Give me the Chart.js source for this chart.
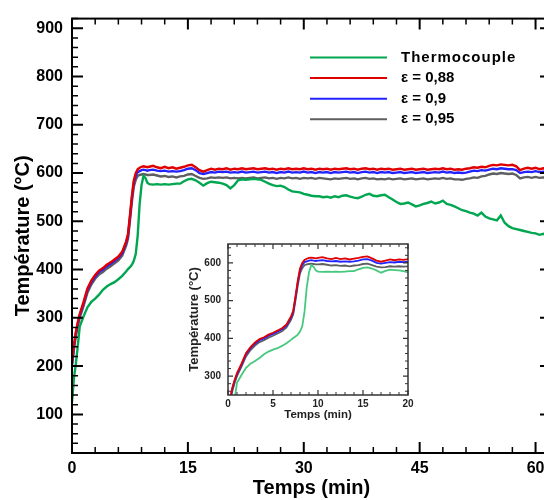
<!DOCTYPE html>
<html><head><meta charset="utf-8">
<script src="https://cdn.jsdelivr.net/npm/chart.js@4/dist/chart.umd.min.js"></script>
<style>
html,body{margin:0;padding:0;background:#fff;overflow:hidden;width:544px;height:500px;position:relative;}
#main{position:absolute;left:0;top:0;}
#inset{position:absolute;left:180px;top:230px;}
</style></head><body>
<canvas id="main" width="560" height="500"></canvas>
<canvas id="inset" width="240" height="192"></canvas>
<script>
// ---- data ----
const times = [0,0.25,0.5,0.75,1,1.5,2,2.5,3,3.5,4,4.5,5,5.5,6,6.5,7,7.25,7.5,7.75,8,8.25,8.5,8.75,9,9.25,9.5,9.75,
10,10.5,11,11.5,12,12.5,13,13.5,14,14.5,15,15.5,16,16.5,17,17.5,18,18.5,19,19.5,20,20.5,21,21.5,22,22.5,23,23.5,24,24.5,
25,25.5,26,26.5,27,27.5,28,28.5,29,29.5,30,30.5,31,31.5,32,32.5,33,33.5,34,34.5,35,35.5,36,36.5,37,37.5,38,38.5,39,39.5,
40,40.5,41,41.5,42,42.5,43,43.5,44,44.5,45,45.5,46,46.5,47,47.5,48,48.5,49,49.5,50,50.5,51,51.5,52,52.5,53,53.5,54,54.5,
55,55.5,56,56.5,57,57.5,58,58.5,59,59.5,60,60.5,61,61.5,62];

const seriesNames = ['Thermocouple','\u03b5 = 0,88','\u03b5 = 0,9','\u03b5 = 0,95'];

const thermocouple = [125,175,205,242,282,303,322,333,340,348,358,365,370,374,380,387,396,401,405,410,418,432,470,535,575,594,590,580,
577,576,577,576,577,576,577,578,578,583,587,588,585,580,574,579,582,581,580,578,575,568,575,585,587,586,587,588,587,586,
582,578,575,573,574,571,566,562,561,560,557,555,553,552,552,550,551,549,552,550,553,554,551,549,548,551,555,557,553,552,
554,555,550,545,540,536,537,539,535,531,533,536,538,541,537,539,543,536,534,531,527,523,521,518,516,512,518,510,506,504,
502,512,497,490,486,484,482,480,478,476,475,472,474,470,472];

const eps088 = [207,243,271,291,308,333,361,377,389,398,403,410,415,421,427,437,458,474,512,552,585,600,608,611,613,614,613,612,
613,615,612,610,613,610,612,609,611,613,616,617,612,606,603,606,609,607,609,608,610,607,609,608,610,608,609,610,608,609,
610,608,609,607,609,608,610,608,609,608,610,608,609,607,609,608,609,607,609,608,609,610,608,609,607,609,610,608,609,607,
609,608,609,607,608,609,607,608,609,607,608,609,607,608,609,608,610,608,609,607,608,607,609,610,612,611,613,612,615,617,
616,618,617,616,617,614,606,609,611,609,611,608,610,609,610];

const eps09 = [205,240,268,288,305,330,358,374,386,395,400,407,412,418,424,434,455,470,508,548,580,594,602,604,606,607,606,605,
606,607,605,604,605,603,604,603,604,606,609,610,606,600,598,600,602,601,603,602,603,601,602,601,603,601,602,603,601,602,
603,601,602,600,602,601,603,601,602,601,603,601,602,600,602,601,602,600,602,601,602,603,601,602,600,602,603,601,602,600,
602,601,602,600,601,602,600,601,602,600,601,602,600,601,602,601,603,601,602,600,601,600,601,603,605,604,606,605,607,609,
608,610,609,608,608,606,600,602,603,602,604,602,603,602,603];

const eps095 = [200,235,262,283,300,325,352,369,381,390,395,402,407,413,419,429,449,464,501,540,572,586,594,596,597,598,597,596,
596,597,595,593,594,592,593,591,593,594,597,598,594,590,588,589,591,590,591,590,591,589,590,589,590,589,590,591,589,590,
591,589,590,588,590,589,591,589,590,588,590,589,590,588,590,589,588,587,589,588,589,590,588,589,587,589,590,588,589,587,
588,587,589,587,588,589,587,588,589,587,588,589,587,588,589,588,590,588,589,587,587,586,588,589,591,590,593,594,597,599,
598,600,599,598,599,596,589,591,592,590,592,590,591,590,591];

const xMajorTicks = [0,15,30,45,60];
const yMajorTicks = [100,200,300,400,500,600,700,800,900];
const insetXMajorTicks = [0,5,10,15,20];
const insetYMajorTicks = [300,400,500,600];

const FONT = "'Liberation Sans', Arial, Helvetica, sans-serif";
const mainColors = ['rgb(0,166,80)','rgb(225,0,0)','rgb(35,35,255)','rgb(95,95,95)'];
const insetColors = ['rgb(70,200,125)','rgb(225,0,0)','rgb(35,35,255)','rgb(95,95,95)'];
const allSeries = [thermocouple, eps088, eps09, eps095];

function steps(a,b,s){const r=[];for(let i=0;a+i*s<=b+1e-9;i++)r.push(+(a+i*s).toFixed(4));return r;}
function mkData(arr){return times.map((t,i)=>({x:t,y:arr[i]}));}
function mkDatasets(colors,w){
  return allSeries.map((arr,k)=>({label:seriesNames[k],data:mkData(arr),borderColor:colors[k],backgroundColor:colors[k],borderWidth:w,pointRadius:0,tension:0,fill:false}));
}

function framePlugin(cfg){
  return {
    id:'frame_'+cfg.name,
    beforeDraw(chart){
      const c=chart.ctx; c.save(); c.fillStyle='#fff'; c.fillRect(0,0,chart.width,chart.height); c.restore();
    },
    afterDatasetsDraw(chart){
      const {ctx, chartArea:a, scales:{x,y}} = chart;
      ctx.save();
      ctx.strokeStyle=cfg.color; ctx.lineCap='butt';
      x.ticks.forEach(t=>{
        const p = x.getPixelForValue(t.value);
        const major = cfg.xMajor.includes(t.value);
        const len = major?cfg.majorLen:cfg.minorLen;
        ctx.lineWidth = major?cfg.majorW:cfg.minorW;
        ctx.beginPath(); ctx.moveTo(p,a.bottom); ctx.lineTo(p,a.bottom-len);
        ctx.moveTo(p,a.top); ctx.lineTo(p,a.top+len); ctx.stroke();
      });
      y.ticks.forEach(t=>{
        const p = y.getPixelForValue(t.value);
        const major = cfg.yMajor.includes(t.value);
        const len = major?cfg.majorLen:cfg.minorLen;
        ctx.lineWidth = major?cfg.majorW:cfg.minorW;
        ctx.beginPath(); ctx.moveTo(a.left,p); ctx.lineTo(a.left+len,p);
        ctx.moveTo(a.right,p); ctx.lineTo(a.right-len,p); ctx.stroke();
      });
      ctx.lineWidth=cfg.frameW;
      ctx.strokeRect(a.left,a.top,a.right-a.left,a.bottom-a.top);
      ctx.restore();
    }
  };
}

const legendPlugin = {
  id:'customLegend',
  afterDraw(chart){
    const ctx=chart.ctx; ctx.save();
    const x0=310,x1=387,tx=401,y0=57.5,dy=20.6;
    chart.data.datasets.forEach((ds,i)=>{
      const yy=y0+i*dy;
      ctx.strokeStyle=ds.borderColor; ctx.lineWidth=2;
      ctx.beginPath(); ctx.moveTo(x0,yy); ctx.lineTo(x1,yy); ctx.stroke();
      ctx.fillStyle='#000'; ctx.textBaseline='middle'; ctx.textAlign='left';
      ctx.font='bold 15px '+FONT;
      ctx.letterSpacing = i===0 ? '1px' : '0px';
      ctx.fillText(ds.label,tx,yy);
    });
    ctx.letterSpacing='0px';
    ctx.restore();
  }
};

// ---- main chart ----
new Chart(document.getElementById('main'),{
  type:'line',
  data:{datasets:mkDatasets(mainColors,2.4)},
  options:{
    responsive:false, animation:false, devicePixelRatio:1,
    layout:{padding:{left:0,top:16,right:9,bottom:0}},
    plugins:{legend:{display:false},tooltip:{enabled:false}},
    scales:{
      x:{type:'linear',min:0,max:62,
        afterBuildTicks:s=>{s.ticks=steps(0,60,3).map(v=>({value:v}));},
        afterFit:s=>{s.height=47;},
        grid:{display:false,drawTicks:false},border:{display:false},
        ticks:{autoSkip:false,maxRotation:0,padding:6,color:'#000',font:{family:FONT,size:16,weight:'bold'},
          callback:v=>xMajorTicks.includes(v)?String(v):''},
        title:{display:true,text:'Temps (min)',color:'#000',font:{family:FONT,size:20,weight:'bold',lineHeight:1.2},padding:{top:0,bottom:0}}
      },
      y:{type:'linear',min:20,max:920,
        afterBuildTicks:s=>{s.ticks=steps(20,920,20).map(v=>({value:v}));},
        afterFit:s=>{s.width=72;},
        grid:{display:false,drawTicks:false},border:{display:false},
        ticks:{autoSkip:false,padding:9,color:'#000',font:{family:FONT,size:16,weight:'bold'},
          callback:v=>yMajorTicks.includes(v)?String(v):''},
        title:{display:true,text:'Température (°C)',color:'#000',font:{family:FONT,size:20,weight:'bold',lineHeight:1.2},padding:{top:11,bottom:0}}
      }
    }
  },
  plugins:[framePlugin({name:'main',color:'#000',xMajor:xMajorTicks,yMajor:yMajorTicks,majorLen:11,minorLen:6,majorW:2,minorW:1.5,frameW:2}),legendPlugin]
});

// ---- inset chart ----
new Chart(document.getElementById('inset'),{
  type:'line',
  data:{datasets:mkDatasets(insetColors,1.8)},
  options:{
    responsive:false, animation:false, devicePixelRatio:1,
    layout:{padding:{left:0,top:14,right:12,bottom:0}},
    plugins:{legend:{display:false},tooltip:{enabled:false}},
    scales:{
      x:{type:'linear',min:0,max:20,
        afterBuildTicks:s=>{s.ticks=steps(0,20,1).map(v=>({value:v}));},
        afterFit:s=>{s.height=27;},
        grid:{display:false,drawTicks:false},border:{display:false},
        ticks:{autoSkip:false,maxRotation:0,padding:3,color:'#222',font:{family:FONT,size:10,weight:'bold'},
          callback:v=>insetXMajorTicks.includes(v)?String(v):''},
        title:{display:true,text:'Temps (min)',color:'#222',font:{family:FONT,size:11.5,weight:'bold',lineHeight:1.2},padding:{top:0,bottom:0}}
      },
      y:{type:'linear',min:250,max:650,
        afterBuildTicks:s=>{s.ticks=steps(260,640,20).map(v=>({value:v}));},
        afterFit:s=>{s.width=48;},
        grid:{display:false,drawTicks:false},border:{display:false},
        ticks:{autoSkip:false,padding:7,color:'#222',font:{family:FONT,size:10,weight:'bold'},
          callback:v=>insetYMajorTicks.includes(v)?String(v):''},
        title:{display:true,text:'Température (°C)',color:'#222',font:{family:FONT,size:13,weight:'bold',lineHeight:1.2},padding:{top:7,bottom:0}}
      }
    }
  },
  plugins:[framePlugin({name:'inset',color:'#333',xMajor:insetXMajorTicks,yMajor:insetYMajorTicks,majorLen:5,minorLen:3,majorW:1.2,minorW:1,frameW:1.5})]
});
</script>
</body></html>
